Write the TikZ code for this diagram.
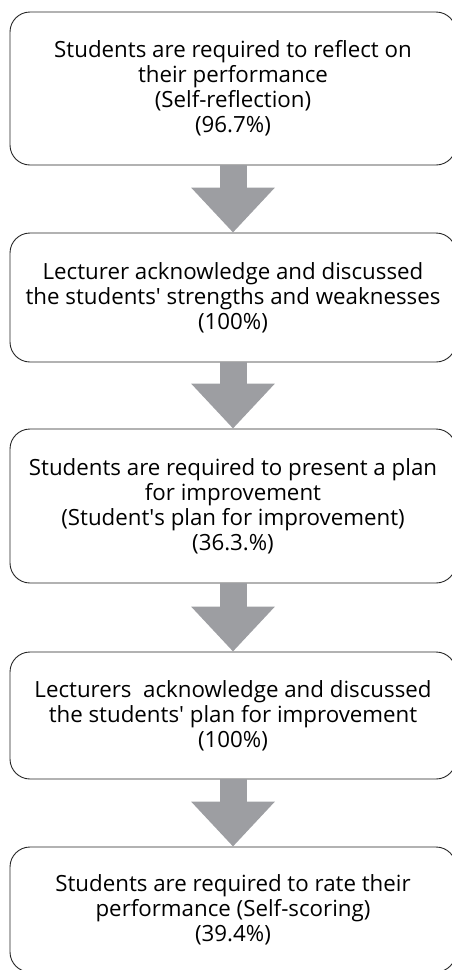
\documentclass[tikz,border=0pt]{standalone}
\usepackage{fontspec}
\setmainfont{Open Sans}
\usetikzlibrary{arrows.meta}
\definecolor{arrowgray}{RGB}{157,158,162}
\begin{document}
\begin{tikzpicture}[x=1pt,y=-1pt,
           box_style/.style={draw=black!85,line width=0.9pt,rounded corners=20pt,fill=white,
                             minimum width=446pt,align=center,font=\fontsize{22.3}{25}\selectfont,inner sep=0pt},
           edge_style/.style={draw=arrowgray,line width=27pt,
                              -{Triangle[width=81pt,length=45pt]}}]
            \useasboundingbox (0,0) rectangle (452,970);
            \clip (0,0) rectangle (452,970);
            \node[box_style,minimum height=153pt] (b1) at (233, 88.5)  {Students are required to reflect on\\their performance\\(Self-reflection)\\(96.7\%)};
            \node[box_style,minimum height=129pt] (b2) at (233, 297.5) {Lecturer acknowledge and discussed\\the students\textquotesingle{} strengths and weaknesses\\(100\%)};
            \node[box_style,minimum height=154pt] (b3) at (233, 506)   {Students are required to present a plan\\for improvement\\(Student\textquotesingle{}s plan for improvement)\\(36.3.\%)};
            \node[box_style,minimum height=127pt] (b4) at (233, 715.5) {Lecturers\ \ acknowledge and discussed\\the students\textquotesingle{} plan for improvement\\(100\%)};
            \node[box_style,minimum height=125pt] (b5) at (233, 909.5) {Students are required to rate their\\performance (Self-scoring)\\(39.4\%)};
            \draw[edge_style]  (b1) -- (b2);
            \draw[edge_style]  (b2) -- (b3);
            \draw[edge_style]  (b3) -- (b4);
            \draw[edge_style]  (b4) -- (b5);
        \end{tikzpicture}
\end{document}
